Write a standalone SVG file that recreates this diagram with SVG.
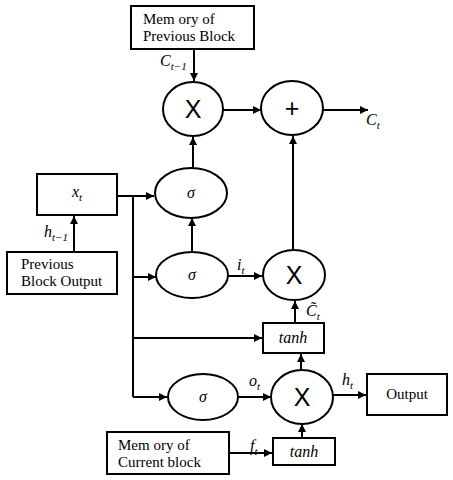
<svg xmlns="http://www.w3.org/2000/svg" width="453" height="480" viewBox="0 0 453 480">
<defs>
<marker id="ah" viewBox="0 0 10 10" refX="10" refY="5" markerWidth="8" markerHeight="8" markerUnits="userSpaceOnUse" orient="auto"><path d="M0,0 L10,5 L0,10 z" fill="#000"/></marker>
<style>
.b{fill:#fff;stroke:#000;stroke-width:2}
.l{fill:none;stroke:#000;stroke-width:2}
.a{fill:none;stroke:#000;stroke-width:2;marker-end:url(#ah)}
.t{font-family:"Liberation Serif",serif;font-size:15px;fill:#000}
.m{font-family:"Liberation Serif",serif;font-style:italic;font-size:16px;fill:#000}
.s{font-family:"Liberation Serif",serif;font-style:italic;font-size:11px;fill:#000}
.x{font-family:"Liberation Sans",Arial,sans-serif;font-size:25px;fill:#000;text-anchor:middle}
</style>
</defs>
<g id="connectors">
<path class="a" d="M194,49 V81"/>
<path class="a" d="M223,110 H261"/>
<path class="a" d="M323,110 H368"/>
<path class="a" d="M193,168 V137"/>
<path class="a" d="M192,252 V218"/>
<path class="a" d="M74,252 V216"/>
<path class="l" d="M117,196 H133 V397"/>
<path class="a" d="M133,196 H154"/>
<path class="a" d="M133,277 H156"/>
<path class="a" d="M133,338 H262"/>
<path class="a" d="M133,397 H167"/>
<path class="a" d="M228,276 H262"/>
<path class="a" d="M293,250 V136"/>
<path class="a" d="M295,323 V301"/>
<path class="a" d="M301,370 V354"/>
<path class="a" d="M238,397 H271"/>
<path class="a" d="M333,395 H366"/>
<path class="a" d="M229,453 H272"/>
<path class="a" d="M302,438 V424"/>
</g>
<g id="mem-prev"><rect class="b" x="131" y="6" width="123" height="43"/><text class="t" x="143" y="24">Mem ory of</text><text class="t" x="143" y="41">Previous Block</text></g>
<g id="xt"><rect class="b" x="37" y="174" width="80" height="41"/><text class="m" x="72" y="197">x<tspan class="s" dy="4">t</tspan></text></g>
<g id="prev-out"><rect class="b" x="7" y="252" width="110" height="42"/><text class="t" x="21" y="269">Previous</text><text class="t" x="21" y="286">Block Output</text></g>
<g id="mul1"><ellipse class="b" cx="193" cy="109" rx="30" ry="27"/><text class="x" x="193" y="118">X</text></g>
<g id="plus"><ellipse class="b" cx="292" cy="108" rx="31" ry="27"/><text class="x" x="292" y="117">+</text></g>
<g id="sig1"><ellipse class="b" cx="191" cy="193" rx="36" ry="25"/><text class="m" x="191" y="198" text-anchor="middle">σ</text></g>
<g id="sig2"><ellipse class="b" cx="192" cy="275" rx="36" ry="23"/><text class="m" x="192" y="280" text-anchor="middle">σ</text></g>
<g id="mul2"><ellipse class="b" cx="294" cy="275" rx="31" ry="25"/><text class="x" x="294" y="284">X</text></g>
<g id="tanh1"><rect class="b" x="263" y="323" width="61" height="30"/><text class="m" x="293" y="343" text-anchor="middle">tanh</text></g>
<g id="sig3"><ellipse class="b" cx="203" cy="397" rx="35" ry="23"/><text class="m" x="203" y="402" text-anchor="middle">σ</text></g>
<g id="mul3"><ellipse class="b" cx="302" cy="397" rx="31" ry="27"/><text class="x" x="302" y="406">X</text></g>
<g id="output"><rect class="b" x="367" y="374" width="80" height="41"/><text class="t" x="407" y="399" text-anchor="middle">Output</text></g>
<g id="mem-cur"><rect class="b" x="107" y="432" width="122" height="42"/><text class="t" x="118" y="450">Mem ory of</text><text class="t" x="118" y="467">Current block</text></g>
<g id="tanh2"><rect class="b" x="273" y="438" width="62" height="27"/><text class="m" x="304" y="457" text-anchor="middle">tanh</text></g>
<g id="labels">
<text class="m" x="160" y="66">C<tspan class="s" dy="4">t−1</tspan></text>
<text class="m" x="366" y="125">C<tspan class="s" dy="4">t</tspan></text>
<text class="m" x="44" y="237">h<tspan class="s" dy="4">t−1</tspan></text>
<text class="m" x="237" y="270">i<tspan class="s" dy="4">t</tspan></text>
<text class="m" x="306" y="316">C&#x303;<tspan class="s" dy="4">t</tspan></text>
<text class="m" x="249" y="386">o<tspan class="s" dy="4">t</tspan></text>
<text class="m" x="342" y="385">h<tspan class="s" dy="4">t</tspan></text>
<text class="m" x="250" y="451">f<tspan class="s" dy="4">t</tspan></text>
</g>
</svg>
